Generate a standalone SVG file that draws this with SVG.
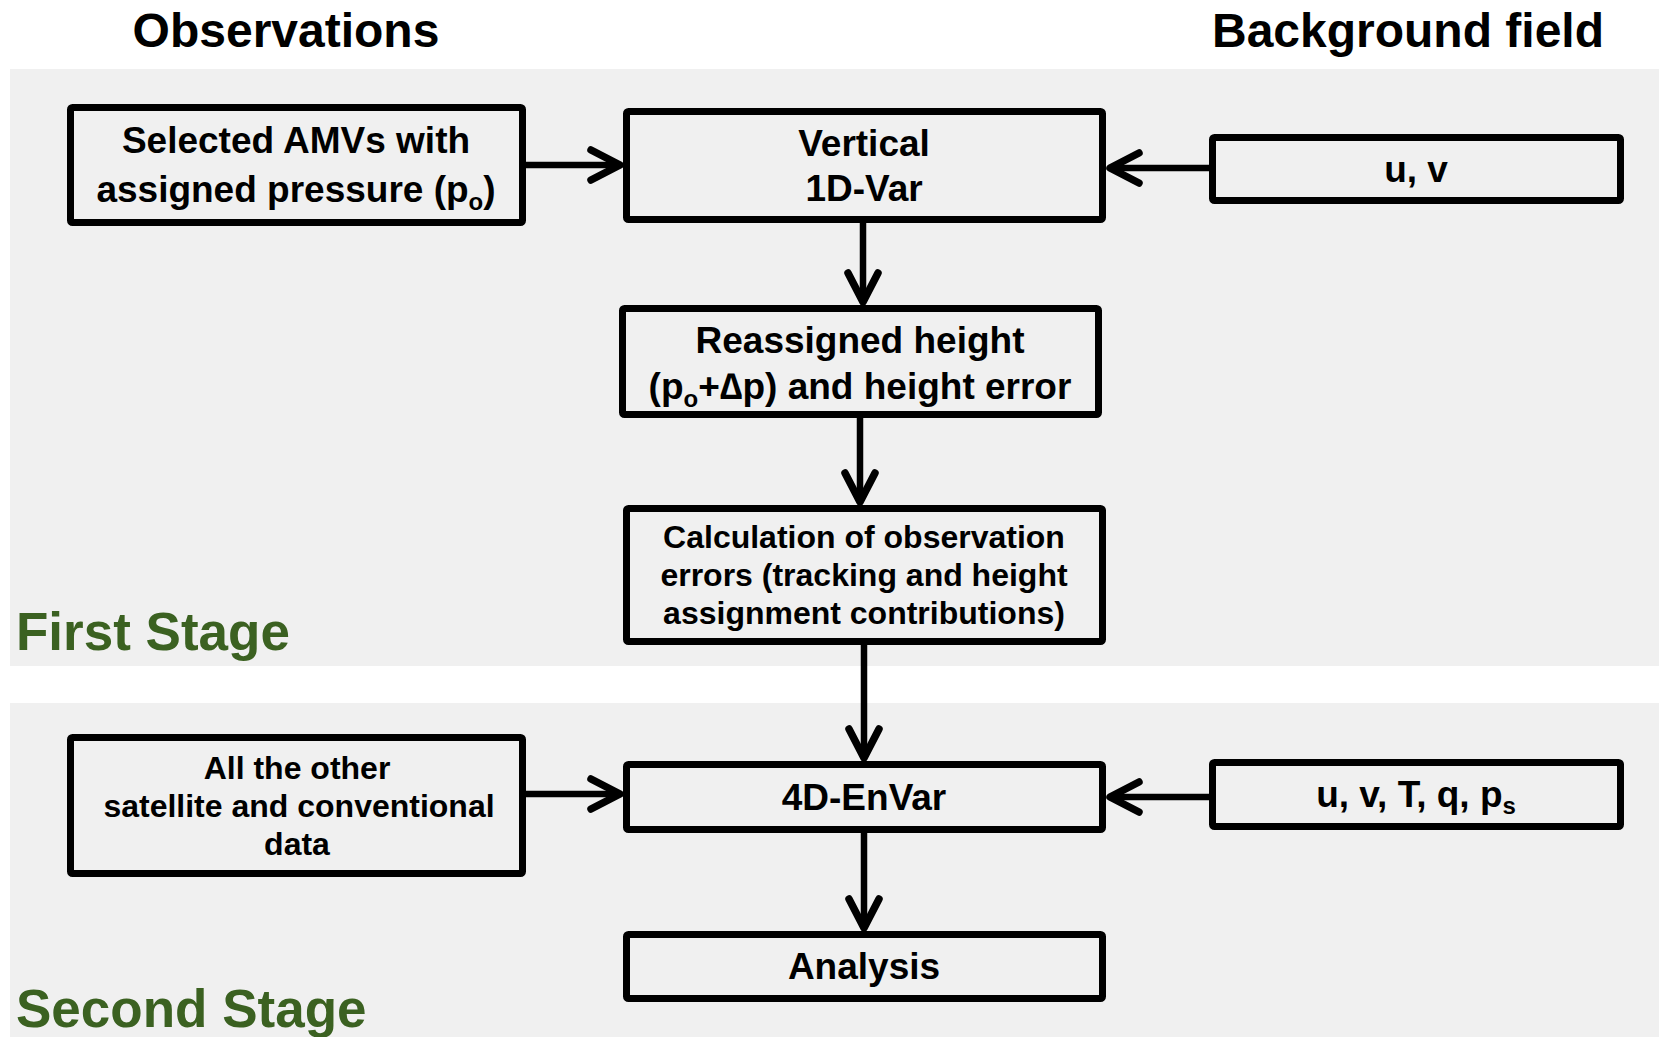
<svg xmlns="http://www.w3.org/2000/svg" width="1662" height="1037" viewBox="0 0 1662 1037">
<style>
.t{font-family:"Liberation Sans",Arial,sans-serif;font-weight:bold;fill:#000;text-anchor:middle}
.h{font-size:48px}
.b37{font-size:37px}
.b32{font-size:32px}
.stage{font-family:"Liberation Sans",Arial,sans-serif;font-weight:bold;fill:#3b6121;font-size:53px}
.box{fill:#f0f0f0;stroke:#000;stroke-width:7;stroke-linejoin:round}
.panel{fill:#f0f0f0}
.conn{fill:none;stroke:#000;stroke-width:6.5;marker-end:url(#chev)}
</style>
<defs>
<marker id="chev" markerUnits="userSpaceOnUse" markerWidth="60" markerHeight="60" viewBox="-40 -30 60 60" refX="0" refY="0" orient="auto" overflow="visible">
<path d="M-29,-15 L0,0 L-29,15" fill="none" stroke="#000" stroke-width="7.5" stroke-linecap="round" stroke-linejoin="round"/>
</marker>
</defs>
<rect width="1662" height="1037" fill="#fff"/>
<rect class="panel" x="10" y="69" width="1649" height="597"/>
<rect class="panel" x="10" y="703" width="1649" height="334"/>
<text class="t h" x="286" y="47">Observations</text>
<text class="t h" x="1408" y="47">Background field</text>
<text class="stage" x="16" y="650">First Stage</text>
<text class="stage" x="16" y="1027">Second Stage</text>
<g id="connectors">
<path class="conn" d="M526,165 L620,165"/>
<path class="conn" d="M1209,168 L1110,168"/>
<path class="conn" d="M863,223 L863,302"/>
<path class="conn" d="M860,418 L860,502"/>
<path class="conn" d="M864,645 L864,758"/>
<path class="conn" d="M526,794 L620,794"/>
<path class="conn" d="M1209,797 L1110,797"/>
<path class="conn" d="M864,833 L864,928"/>
</g>
<g id="node-amvs">
<rect class="box" x="70.5" y="107.5" width="452" height="115" rx="2"/>
<text class="t b37" x="296" y="153">Selected AMVs with</text>
<text class="t b37" x="296" y="202">assigned pressure (p<tspan font-size="24" dy="8">o</tspan><tspan dy="-8">)</tspan></text>
</g>
<g id="node-1dvar">
<rect class="box" x="626.5" y="111.5" width="476" height="108" rx="2"/>
<text class="t b37" x="864" y="156">Vertical</text>
<text class="t b37" x="864" y="201">1D-Var</text>
</g>
<g id="node-uv">
<rect class="box" x="1212.5" y="137.5" width="408" height="63" rx="2"/>
<text class="t b37" x="1416" y="182">u, v</text>
</g>
<g id="node-reassigned">
<rect class="box" x="622.5" y="308.5" width="476" height="106" rx="2"/>
<text class="t b37" x="860" y="353">Reassigned height</text>
<text class="t b37" x="860" y="399">(p<tspan font-size="24" dy="8">o</tspan><tspan dy="-8">+∆p) and height error</tspan></text>
</g>
<g id="node-calc">
<rect class="box" x="626.5" y="508.5" width="476" height="133" rx="2"/>
<text class="t b32" x="864" y="548">Calculation of observation</text>
<text class="t b32" x="864" y="586">errors (tracking and height</text>
<text class="t b32" x="864" y="624">assignment contributions)</text>
</g>
<g id="node-other">
<rect class="box" x="70.5" y="737.5" width="452" height="136" rx="2"/>
<text class="t b32" x="297" y="779">All the other</text>
<text class="t b32" x="299" y="817">satellite and conventional</text>
<text class="t b32" x="297" y="855">data</text>
</g>
<g id="node-4denvar">
<rect class="box" x="626.5" y="764.5" width="476" height="65" rx="2"/>
<text class="t b37" x="864" y="810">4D-EnVar</text>
</g>
<g id="node-bg2">
<rect class="box" x="1212.5" y="762.5" width="408" height="64" rx="2"/>
<text class="t b37" x="1416" y="807">u, v, T, q, p<tspan font-size="24" dy="7">s</tspan></text>
</g>
<g id="node-analysis">
<rect class="box" x="626.5" y="934.5" width="476" height="64" rx="2"/>
<text class="t b37" x="864" y="979">Analysis</text>
</g>
</svg>
